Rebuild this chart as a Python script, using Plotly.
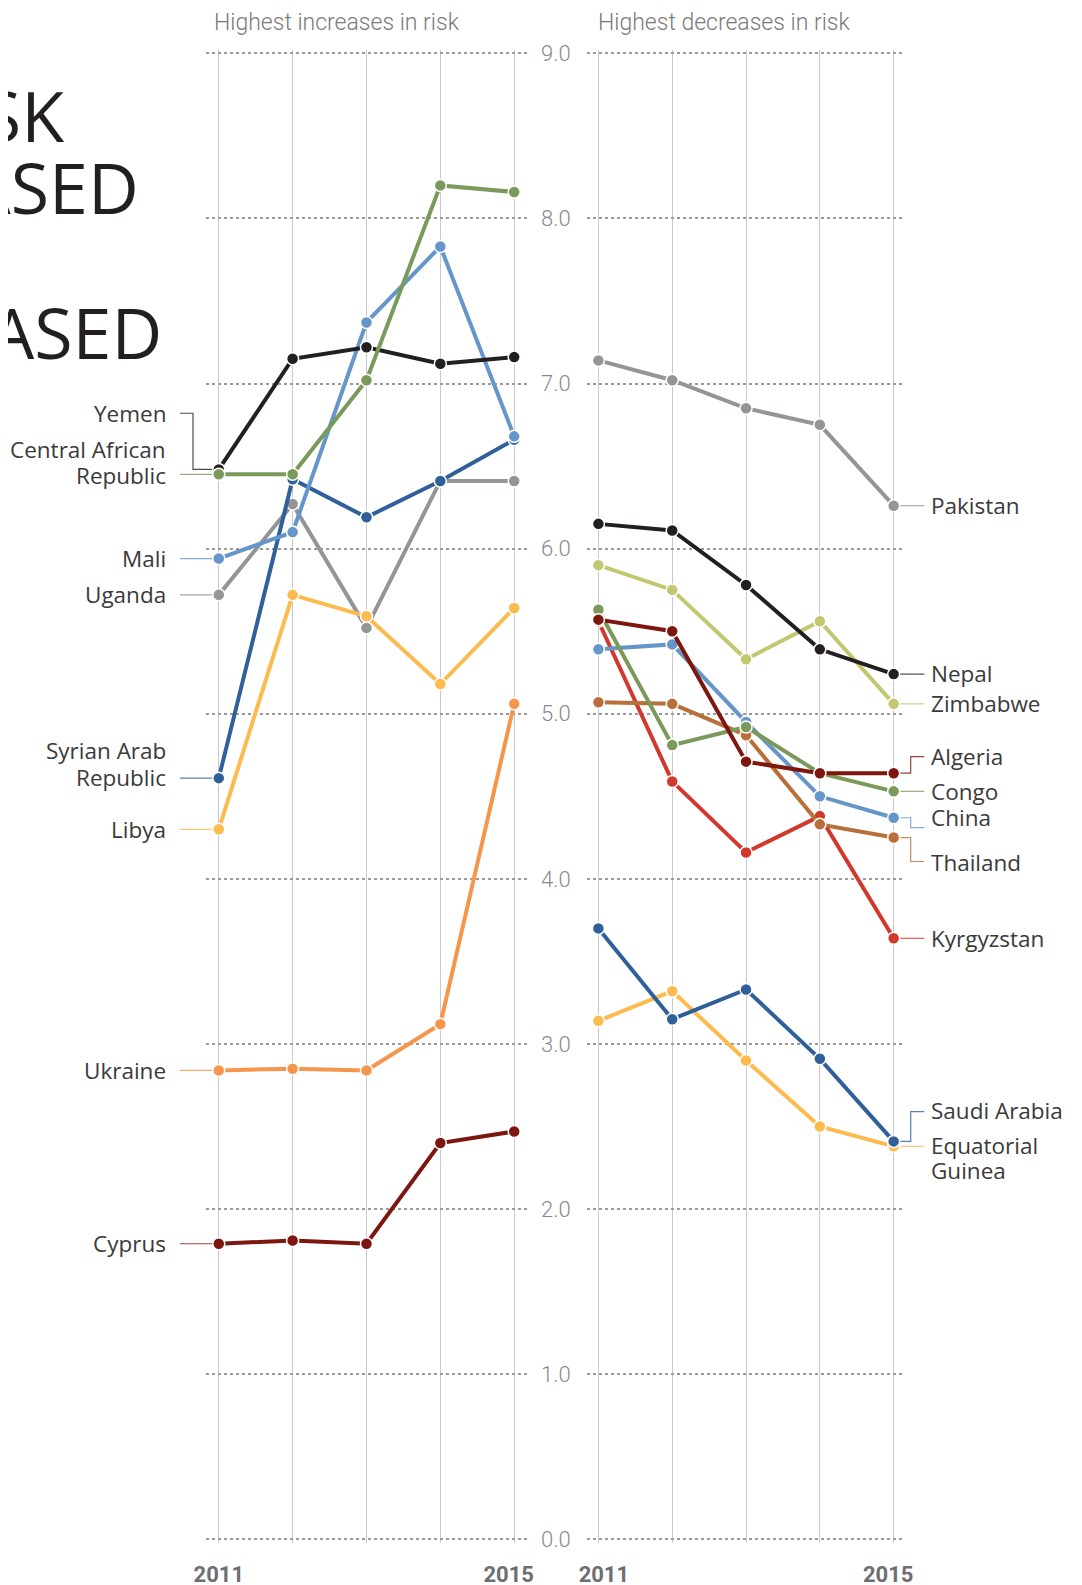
import plotly.graph_objects as go

# years on the x axis
years = [2011, 2012, 2013, 2014, 2015]

# highest increases in risk (left panel)
yemen = [6.48, 7.15, 7.22, 7.12, 7.16]
car = [6.45, 6.45, 7.02, 8.20, 8.16]
mali = [5.94, 6.10, 7.37, 7.83, 6.68]
uganda = [5.72, 6.27, 5.52, 6.41, 6.41]
syria = [4.61, 6.42, 6.19, 6.41, 6.66]
libya = [4.30, 5.72, 5.59, 5.18, 5.64]
ukraine = [2.84, 2.85, 2.84, 3.12, 5.06]
cyprus = [1.79, 1.81, 1.79, 2.40, 2.47]

# highest decreases in risk (right panel)
pakistan = [7.14, 7.02, 6.85, 6.75, 6.26]
nepal = [6.15, 6.11, 5.78, 5.39, 5.24]
zimbabwe = [5.90, 5.75, 5.33, 5.56, 5.06]
congo = [5.63, 4.81, 4.92, 4.64, 4.53]
algeria = [5.57, 5.50, 4.71, 4.64, 4.64]
china = [5.39, 5.42, 4.95, 4.50, 4.37]
thailand = [5.07, 5.06, 4.87, 4.33, 4.25]
kyrgyzstan = [5.56, 4.59, 4.16, 4.38, 3.64]
saudi = [3.70, 3.15, 3.33, 2.91, 2.41]
eq_guinea = [3.14, 3.32, 2.90, 2.50, 2.38]

y_ticks = [0, 1, 2, 3, 4, 5, 6, 7, 8, 9]
# the end labels sit a little inwards, as in the original
left_year_labels = ['2011', '', '', '', '2015&nbsp;&nbsp;']
right_year_labels = ['&nbsp;&nbsp;2011', '', '', '', '2015&nbsp;&nbsp;']

BLACK = '#231f20'
GREEN = '#7a9a5b'
LBLUE = '#6596c9'
GREY = '#939598'
DBLUE = '#30609a'
YELLOW = '#fdbb4f'
ORANGE = '#f6964c'
DRED = '#7e1610'
OLIVE = '#c3c76f'
BROWN = '#b96f39'
RED = '#d3382c'

W, H = 1082, 1585
OFF = 8  # the page body adds an 8px margin around the figure


def px(x):
    # page pixel (from the left) -> paper x
    return (x - OFF) / W


def py(y):
    # page pixel (from the top) -> paper y
    return 1 - (y - OFF) / H


# name, values, colour, label lines [(text, y)], connector y (outer end)
left = [
    ('Uganda', uganda, GREY, [('Uganda', 5.725)], None),
    ('Libya', libya, YELLOW, [('Libya', 4.30)], None),
    ('Syria', syria, DBLUE, [('Syrian Arab', 4.775), ('Republic', 4.612)], None),
    ('Mali', mali, LBLUE, [('Mali', 5.94)], None),
    ('Yemen', yemen, BLACK, [('Yemen', 6.82)], 6.82),
    ('CAR', car, GREEN, [('Central African', 6.60), ('Republic', 6.44)], None),
    ('Ukraine', ukraine, ORANGE, [('Ukraine', 2.84)], None),
    ('Cyprus', cyprus, DRED, [('Cyprus', 1.79)], None),
]
right = [
    ('Pakistan', pakistan, GREY, [('Pakistan', 6.26)], None),
    ('Zimbabwe', zimbabwe, OLIVE, [('Zimbabwe', 5.06)], None),
    ('Nepal', nepal, BLACK, [('Nepal', 5.245)], None),
    ('Kyrgyzstan', kyrgyzstan, RED, [('Kyrgyzstan', 3.64)], None),
    ('Thailand', thailand, BROWN, [('Thailand', 4.10)], 4.105),
    ('China', china, LBLUE, [('China', 4.37)], 4.31),
    ('Congo', congo, GREEN, [('Congo', 4.53)], None),
    ('Algeria', algeria, DRED, [('Algeria', 4.74)], 4.74),
    ('Equatorial Guinea', eq_guinea, YELLOW, [('Equatorial', 2.385), ('Guinea', 2.232)], None),
    ('Saudi Arabia', saudi, DBLUE, [('Saudi Arabia', 2.60)], 2.59),
]

fig = go.Figure()

for name, vals, col, _, _ in left:
    fig.add_trace(go.Scatter(
        x=years, y=vals, name=name, mode='lines+markers',
        line=dict(color=col, width=4),
        marker=dict(size=12, color=col, line=dict(color='white', width=1.5)),
        xaxis='x', yaxis='y', cliponaxis=False))

for name, vals, col, _, _ in right:
    fig.add_trace(go.Scatter(
        x=years, y=vals, name=name, mode='lines+markers',
        line=dict(color=col, width=4),
        marker=dict(size=12, color=col, line=dict(color='white', width=1.5)),
        xaxis='x2', yaxis='y2', cliponaxis=False))

label_font = dict(family='Open Sans', size=22.5, color='#3a3a3a')
shapes = []
annotations = []

# left labels: right aligned, connector runs into the 2011 point
lx_text, lx0, lx_elbow, lx1 = px(168), px(180), px(193), px(218)
for name, vals, col, lines, cy in left:
    y_in = vals[0]
    y_out = cy if cy is not None else y_in
    path = f'M {lx0},{y_out} L {lx_elbow},{y_out} L {lx_elbow},{y_in} L {lx1},{y_in}'
    shapes.append(dict(type='path', path=path, xref='paper', yref='y',
                       line=dict(color=col, width=1.2), opacity=0.8, layer='below'))
    for text, ly in lines:
        annotations.append(dict(text=text, x=lx_text, y=ly, xref='paper', yref='y',
                                xanchor='right', yanchor='middle', align='right',
                                showarrow=False, font=label_font))

# right labels: left aligned, connector leaves the 2015 point
rx_text, rx0, rx_elbow, rx1 = px(929), px(894), px(910.7), px(924.3)
for name, vals, col, lines, cy in right:
    y_in = vals[-1]
    y_out = cy if cy is not None else y_in
    path = f'M {rx0},{y_in} L {rx_elbow},{y_in} L {rx_elbow},{y_out} L {rx1},{y_out}'
    shapes.append(dict(type='path', path=path, xref='paper', yref='y',
                       line=dict(color=col, width=1.2), opacity=0.8, layer='below'))
    for text, ly in lines:
        annotations.append(dict(text=text, x=rx_text, y=ly, xref='paper', yref='y',
                                xanchor='left', yanchor='middle', align='left',
                                showarrow=False, font=label_font))

# panel subtitles
sub_font = dict(family='Roboto', size=23, color='#7a7a7a', weight=300)
annotations.append(dict(text='Highest increases in risk', x=px(212), y=py(22),
                        xref='paper', yref='paper', xanchor='left', yanchor='middle',
                        showarrow=False, font=sub_font))
annotations.append(dict(text='Highest decreases in risk', x=px(596), y=py(22),
                        xref='paper', yref='paper', xanchor='left', yanchor='middle',
                        showarrow=False, font=sub_font))

# big headline, cut off by the left edge of the page
title_font = dict(family='Open Sans', size=70, color='#231f20', weight=400)
for text, xr, yc in [('RISK', 66, 115), ('INCREASED', 141, 187), ('DECREASED', 164, 332)]:
    annotations.append(dict(text=text, x=px(xr), y=py(yc), xref='paper', yref='paper',
                            xanchor='right', yanchor='middle', showarrow=False,
                            font=title_font))

y_dom = [py(1542.6), py(50)]
xaxis_common = dict(
    tickvals=years, showgrid=True, gridcolor='#c9c9c9',
    gridwidth=1, zeroline=False, showline=False, ticks='',
    tickfont=dict(family='Roboto', size=22, color='#6d6e71', weight='bold'),
    ticklabelstandoff=16, fixedrange=True)
yaxis_common = dict(
    range=[-0.02, 9.02], domain=y_dom, tickvals=y_ticks, tickformat='.1f',
    showgrid=True, gridcolor='#9a9a9a', gridwidth=1.5, griddash='dot',
    zeroline=False, showline=False, ticks='')

fig.update_layout(
    width=W, height=H,
    margin=dict(l=0, r=0, t=0, b=0, autoexpand=False),
    paper_bgcolor='white', plot_bgcolor='white',
    showlegend=False,
    xaxis=dict(domain=[px(205.7), px(528)], range=[2010.823, 2015.187],
               anchor='y', ticktext=left_year_labels, **xaxis_common),
    xaxis2=dict(domain=[px(586.6), px(904)], range=[2010.84, 2015.14],
                anchor='y2', ticktext=right_year_labels, **xaxis_common),
    yaxis=dict(anchor='x', side='right', showticklabels=True,
               tickfont=dict(family='Roboto', size=22, color='#8a8a8a', weight=300),
               ticklabelstandoff=12, **yaxis_common),
    yaxis2=dict(anchor='x2', showticklabels=False, matches='y', **yaxis_common),
    shapes=shapes,
    annotations=annotations,
)

fig.write_html('out.html')
